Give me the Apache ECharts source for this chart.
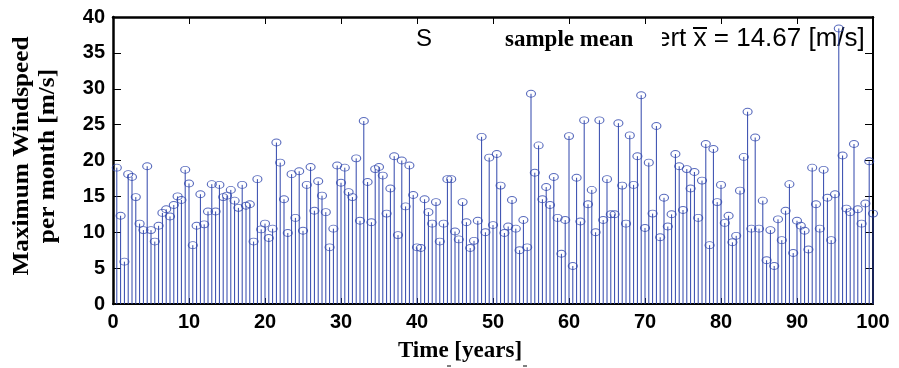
<!DOCTYPE html>
<html>
<head>
<meta charset="utf-8">
<script src="https://cdn.jsdelivr.net/npm/echarts@6/dist/echarts.min.js"></script>
<style>
  html, body { margin: 0; padding: 0; background: #fff; }
  #chart { width: 899px; height: 368px; }
</style>
</head>
<body>
<div id="chart"></div>
<script>
// one sample every half year, 0.5 .. 100
const timeStep = 0.5;
const windspeed = [
  19.0, 12.3, 5.9, 18.1, 17.7, 14.9, 11.2, 10.3, 19.2, 10.3,
  8.7, 10.9, 12.7, 13.2, 12.2, 13.8, 15.0, 14.5, 18.7, 16.8,
  8.2, 10.9, 15.3, 11.1, 12.9, 16.7, 12.9, 16.6, 14.9, 15.1,
  15.9, 14.4, 13.4, 16.6, 13.7, 13.9, 8.7, 17.4, 10.4, 11.2,
  9.2, 10.5, 22.5, 19.7, 14.6, 9.9, 18.1, 12.0, 18.5, 10.2,
  16.6, 19.1, 13.0, 17.1, 15.1, 12.8, 7.9, 10.5, 19.3, 16.9,
  19.0, 15.6, 14.9, 20.3, 11.6, 25.5, 17.0, 11.4, 18.8, 19.1,
  17.9, 12.6, 16.1, 20.6, 9.6, 20.0, 13.6, 19.3, 15.2, 7.9,
  7.8, 14.6, 12.8, 11.2, 14.2, 8.7, 11.2, 17.4, 17.4, 10.1,
  9.0, 14.2, 11.4, 7.8, 8.8, 11.6, 23.3, 10.0, 20.4, 11.0,
  20.9, 16.5, 9.9, 10.8, 14.5, 10.5, 7.5, 11.7, 7.9, 29.3,
  18.3, 22.1, 14.6, 16.3, 13.8, 17.7, 12.0, 7.0, 11.7, 23.4,
  5.3, 17.6, 11.5, 25.6, 13.9, 15.9, 10.0, 25.6, 11.7, 17.4,
  12.5, 12.5, 25.2, 16.5, 11.2, 23.5, 16.6, 20.6, 29.1, 10.6,
  19.7, 12.6, 24.8, 9.3, 14.8, 10.8, 12.5, 20.9, 19.2, 13.1,
  18.8, 16.1, 18.4, 12.0, 17.2, 22.3, 8.2, 21.6, 14.2, 16.6,
  11.3, 12.3, 8.6, 9.5, 15.8, 20.5, 26.8, 10.5, 23.2, 10.5,
  14.4, 6.1, 10.3, 5.3, 11.8, 8.9, 13.0, 16.7, 7.1, 11.6,
  10.9, 10.2, 7.6, 19.0, 13.9, 10.5, 18.7, 14.8, 8.9, 15.3,
  38.4, 20.7, 13.3, 12.8, 22.3, 13.2, 11.2, 14.0, 19.9, 12.6
];
const years = windspeed.map((v, i) => (i + 1) * timeStep);
const points = windspeed.map((v, i) => [years[i], v]);

const stemColor = "#3046ac";
const black = "#000";
const sansBold = { fontFamily: "Liberation Sans", fontWeight: "bold", fontSize: 20, color: black };

const chart = echarts.init(document.getElementById("chart"), null, { renderer: "canvas" });

function axisCommon(pos, showLabel, tickLen, lineWidth) {
  return {
    type: "value",
    position: pos,
    axisLine: { show: true, onZero: false, lineStyle: { color: black, width: lineWidth } },
    axisTick: { show: true, inside: true, length: tickLen, lineStyle: { color: black, width: 1 } },
    axisLabel: Object.assign({ show: showLabel }, sansBold),
    splitLine: { show: false }
  };
}

const option = {
  animation: false,
  backgroundColor: "#fff",
  grid: { left: 113, right: 26, top: 17, bottom: 64 },
  xAxis: [
    Object.assign(axisCommon("bottom", true, 6, 2), { min: 0, max: 100, interval: 10 }),
    Object.assign(axisCommon("top", false, 7, 2.5), { min: 0, max: 100, interval: 10 })
  ],
  yAxis: [
    Object.assign(axisCommon("left", true, 8, 2.5), { min: 0, max: 40, interval: 5 }),
    Object.assign(axisCommon("right", false, 8, 2), { min: 0, max: 40, interval: 5 })
  ],
  series: [
    {
      // stems
      type: "custom",
      data: points,
      encode: { x: 0, y: 1 },
      renderItem(params, api) {
        const p0 = api.coord([api.value(0), 0]);
        const p1 = api.coord([api.value(0), api.value(1)]);
        return {
          type: "line",
          shape: { x1: p0[0], y1: p0[1], x2: p1[0], y2: p1[1] },
          style: { stroke: stemColor, lineWidth: 1 }
        };
      }
    },
    {
      // open markers on top of the stems
      type: "scatter",
      data: points,
      clip: false,
      symbol: "path://M0,5 A5,5 0 1,1 10,5 A5,5 0 1,1 0,5 Z",
      symbolSize: [9, 7],
      itemStyle: { color: "rgba(255,255,255,0)", borderColor: stemColor, borderWidth: 1 }
    }
  ],
  graphic: [
    {
      type: "text", x: 656, y: 39, z: 0,
      style: { text: "ert x = 14.67 [m/s]", font: '26px "Liberation Sans"', fill: black, verticalAlign: "middle" }
    },
    { type: "line", z: 0, shape: { x1: 693, y1: 28, x2: 707, y2: 28 }, style: { stroke: black, lineWidth: 2 } },
    { type: "rect", z: 1, shape: { x: 498, y: 25, width: 164, height: 30 }, style: { fill: "#fff" } },
    {
      type: "text", x: 505, y: 40, z: 1,
      style: { text: "sample mean", font: 'bold 23px "Liberation Serif"', fill: black, verticalAlign: "middle" }
    },
    {
      type: "text", x: 416, y: 39, z: 1,
      style: { text: "S", font: '24px "Liberation Sans"', fill: black, verticalAlign: "middle" }
    },
    {
      type: "text", x: 460, y: 351,
      style: { text: "Time [years]", font: 'bold 23px "Liberation Serif"', fill: black, align: "center", verticalAlign: "middle" }
    },
    { type: "line", shape: { x1: 447, y1: 366, x2: 451, y2: 366 }, style: { stroke: black, lineWidth: 1 } },
    { type: "line", shape: { x1: 523, y1: 366, x2: 527, y2: 366 }, style: { stroke: black, lineWidth: 1 } },
    {
      type: "text", x: 35, y: 156, rotation: Math.PI / 2, scaleX: 1.1,
      style: {
        text: "Maximum Windspeed\nper month [m/s]",
        font: 'bold 23px "Liberation Serif"',
        fill: black, align: "center", verticalAlign: "middle", lineHeight: 26
      }
    }
  ]
};

chart.setOption(option);
</script>
</body>
</html>
